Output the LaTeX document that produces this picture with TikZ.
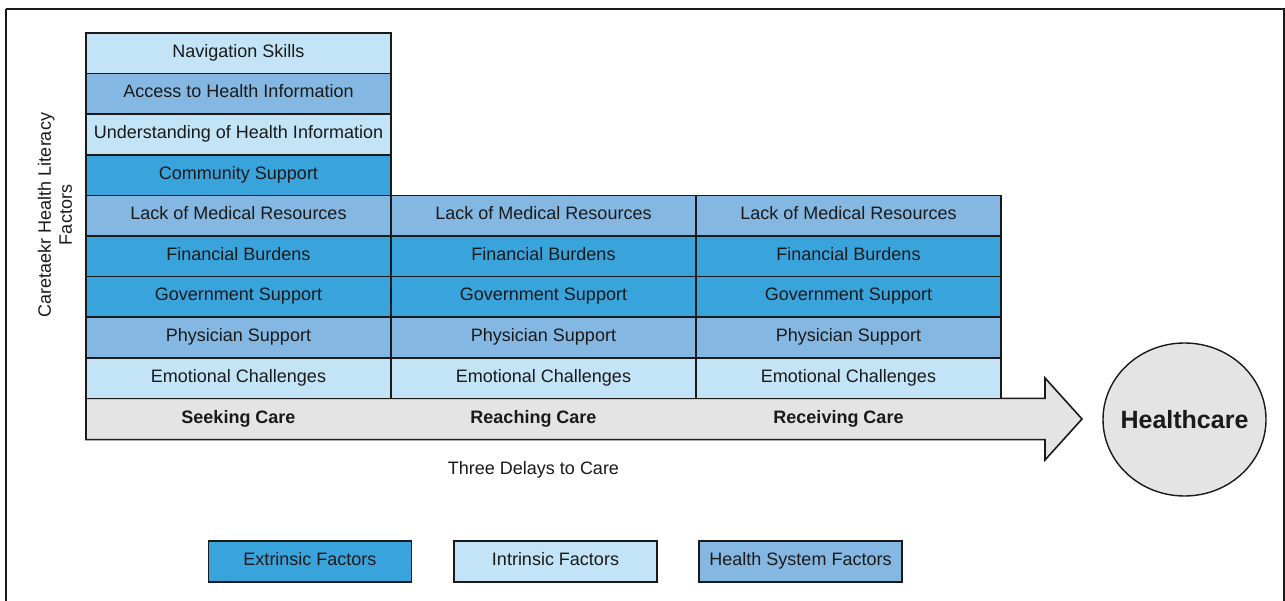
\documentclass[tikz,border=0pt]{standalone}
\usepackage{fontspec}
\setmainfont{Liberation Sans}
\usetikzlibrary{shapes.geometric}
\definecolor{lightb}{HTML}{C3E4F7}
\definecolor{medb}{HTML}{84B8E2}
\definecolor{darkb}{HTML}{39A3DC}
\definecolor{greyf}{HTML}{E4E4E4}
\definecolor{ink}{HTML}{1A1A1A}
\tikzset{
  cell/.style={draw=ink, line width=1.6pt, minimum width=305pt, minimum height=40.6pt,
    inner sep=0pt, text height=12pt, text depth=4pt, text=ink,
    font=\fontsize{18}{21}\selectfont, anchor=center},
  ext/.style={cell, fill=darkb},
  intr/.style={cell, fill=lightb},
  hsys/.style={cell, fill=medb},
  stage/.style={text=ink, text height=12pt, text depth=4pt, font=\fontsize{18}{21}\selectfont\bfseries},
  legbox/.style={draw=ink, line width=1.4pt, minimum width=203pt, minimum height=41pt,
    inner sep=0pt, text height=12pt, text depth=4pt, text=ink, font=\fontsize{18}{21}\selectfont},
}
\begin{document}
\begin{tikzpicture}[x=1pt,y=-1pt]
\useasboundingbox (0,0) rectangle (1285,601);
\fill[white] (0,0) rectangle (1285,601);
% frame
\draw[ink, line width=1.6pt] (6,9) -- (1284,9) -- (1284,640) (6,9) -- (6,640);

% big arrow
\draw[ink, line width=1.6pt, fill=greyf, line join=miter]
  (86,398.4) -- (1045,398.4) -- (1045,378) -- (1082,419) -- (1045,460)
  -- (1045,439.6) -- (86,439.6) -- cycle;

% column 1
\node[intr] (n1) at (238.5,53.3) {Navigation Skills};
\node[hsys] (a1) at (238.5,93.9) {Access to Health Information};
\node[intr] (u1) at (238.5,134.5) {Understanding of Health Information};
\node[ext]  (c1) at (238.5,175.1) {Community Support};
\foreach \cx/\k in {238.5/1,543.5/2,848.5/3}{
  \node[hsys] (l\k) at (\cx,215.7) {Lack of Medical Resources};
  \node[ext]  (f\k) at (\cx,256.3) {Financial Burdens};
  \node[ext]  (g\k) at (\cx,296.9) {Government Support};
  \node[hsys] (p\k) at (\cx,337.5) {Physician Support};
  \node[intr] (e\k) at (\cx,378.1) {Emotional Challenges};
}

% stage labels
\node[stage] (s1) at (238.5,419) {Seeking Care};
\node[stage] (s2) at (533.5,419) {Reaching Care};
\node[stage] (s3) at (838.5,419) {Receiving Care};
\node[text=ink, text height=12pt, text depth=4pt, font=\fontsize{18}{21}\selectfont] (delays) at (533.5,470) {Three Delays to Care};

% healthcare ellipse
\node[ellipse, draw=ink, line width=1.4pt, fill=greyf, minimum width=163pt, minimum height=153pt,
  inner sep=0pt] (hc) at (1184.5,419.5) {};
\node[text=ink, font=\fontsize{25}{28}\selectfont\bfseries] (hctext) at (hc.center) {Healthcare};

% vertical axis label
\node[rotate=90, align=center, text=ink, font=\fontsize{18}{21}\selectfont] (axis) at (55,215)
  {Caretaekr Health Literacy\\Factors};

% legend
\node[legbox, fill=darkb]  (lg1) at (310,561.5) {Extrinsic Factors};
\node[legbox, fill=lightb] (lg2) at (555.5,561.5) {Intrinsic Factors};
\node[legbox, fill=medb]   (lg3) at (800.5,561.5) {Health System Factors};
\end{tikzpicture}
\end{document}
